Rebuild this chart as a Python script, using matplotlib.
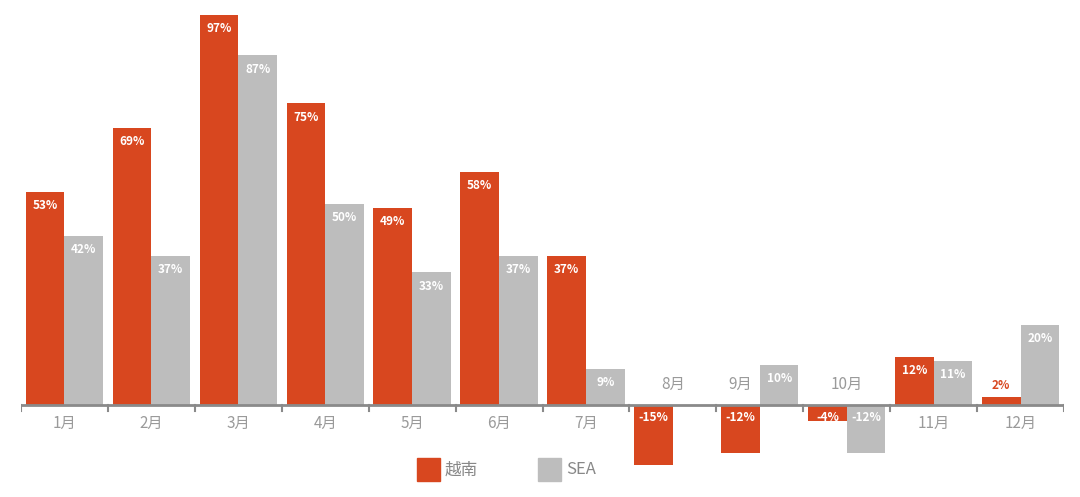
import matplotlib
matplotlib.use('Agg')
from matplotlib import pyplot as plt
import numpy as np

months = ['1月', '2月', '3月', '4月', '5月', '6月', '7月', '8月', '9月', '10月', '11月', '12月']
vietnam = [53, 69, 97, 75, 49, 58, 37, -15, -12, -4, 12, 2]
sea = [42, 37, 87, 50, 33, 37, 9, None, 10, -12, 11, 20]
legend_labels = ['越南', 'SEA']

plt.rcParams['font.family'] = ['Noto Sans CJK SC', 'DejaVu Sans']

orange = '#D8471F'
grey = '#BDBDBD'
axis_grey = '#8A8A8A'
text_grey = '#9A9A9A'

fig = plt.figure(figsize=(10.8, 4.97), dpi=100)
ax = fig.add_axes([21 / 1080, 0, 1043 / 1080, 1])

x = np.arange(len(months))
w = 0.445

sea_vals = [v if v is not None else 0 for v in sea]
ax.bar(x - w / 2, vietnam, w, color=orange, zorder=2)
ax.bar(x + w / 2, sea_vals, w, color=grey, zorder=2)

ax.set_xlim(-0.5, len(months) - 0.5)
ax.set_ylim(-22.9, 100.75)
ax.axis('off')

# baseline and group ticks
ax.plot([-0.5, len(months) - 0.5], [0, 0], color=axis_grey, lw=2, zorder=3)
for b in np.arange(-0.5, len(months), 1.0):
    ax.plot([b, b], [0, -1.6], color=axis_grey, lw=1.5, zorder=3)


def value_label(xpos, v, color_bar):
    txt = f'{v}%'
    if v >= 0:
        if v < 5:
            ax.text(xpos, v + 1.2, txt, ha='center', va='bottom', color=color_bar,
                    fontsize=8.5, fontweight='bold', zorder=4)
        else:
            ax.text(xpos, v - 1.8, txt, ha='center', va='top', color='white',
                    fontsize=8.5, fontweight='bold', zorder=4)
    else:
        ax.text(xpos, -1.4, txt, ha='center', va='top', color='white',
                fontsize=8.5, fontweight='bold', zorder=4)


for i in range(len(months)):
    value_label(x[i] - w / 2, vietnam[i], orange)
    if sea[i] is not None:
        value_label(x[i] + w / 2, sea[i], grey)

# month labels: below the axis, above it where bars go negative
for i, m in enumerate(months):
    v_neg = vietnam[i] < 0
    s_neg = sea[i] is None or sea[i] < 0
    if v_neg and s_neg:
        ax.text(x[i], 5.0, m, ha='center', va='center', color=text_grey, fontsize=11)
    elif v_neg:
        ax.text(x[i] - w / 2, 5.0, m, ha='center', va='center', color=text_grey, fontsize=11)
    else:
        ax.text(x[i], -4.6, m, ha='center', va='center', color=text_grey, fontsize=11)

# legend
fig.patches.append(plt.Rectangle((417 / 1080, (497 - 481) / 497), 23 / 1080, 23 / 497,
                                 transform=fig.transFigure, color=orange, figure=fig))
fig.text(445 / 1080, (497 - 470) / 497, legend_labels[0], ha='left', va='center',
         color='#888888', fontsize=12)
fig.patches.append(plt.Rectangle((538 / 1080, (497 - 481) / 497), 23 / 1080, 23 / 497,
                                 transform=fig.transFigure, color=grey, figure=fig))
fig.text(566 / 1080, (497 - 470) / 497, legend_labels[1], ha='left', va='center',
         color='#888888', fontsize=12)

plt.savefig('out.png', dpi=100)
